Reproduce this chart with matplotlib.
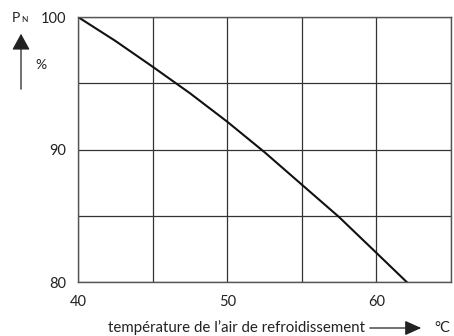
import matplotlib
matplotlib.use("Agg")
import matplotlib.pyplot as plt
from matplotlib.patches import FancyArrowPatch

# values
temp = [40, 42.5, 45, 47.5, 50, 52.5, 55, 57.5, 60, 62.03]
power = [100, 98.2, 96.25, 94.25, 92.1, 89.8, 87.35, 84.9, 82.2, 80]

grid_x = [40, 45, 50, 55, 60, 65]
grid_y = [80, 85, 90, 95, 100]
xticks = [40, 50, 60]
yticks = [80, 90, 100]

plt.rcParams['font.family'] = ['Lato', 'DejaVu Sans']
ink = '#222222'

fig = plt.figure(figsize=(4.54, 3.36), dpi=100)
ax = fig.add_axes([0.1718, 0.1607, 0.8216, 0.7887])

ax.plot(temp, power, color='#111111', linewidth=1.5)

ax.set_xlim(40, 65)
ax.set_ylim(80, 100)
ax.set_xticks(grid_x)
ax.set_yticks(grid_y)
ax.set_xticklabels([str(t) if t in xticks else '' for t in grid_x])
ax.set_yticklabels([str(t) if t in yticks else '' for t in grid_y])
ax.grid(True, color='#333333', linewidth=0.9)
ax.tick_params(length=0, labelsize=10.5, colors=ink)
ax.tick_params(axis='y', pad=8.6)
ax.tick_params(axis='x', pad=9)
for s in ax.spines.values():
    s.set_color('#555555')
    s.set_linewidth(1.0)

def px(x, y):
    return x / 454, 1 - y / 336

# y axis annotation: P_N, arrow, %
fig.text(*px(12, 18), 'P', fontsize=10, color=ink, ha='left', va='center')
fig.text(*px(21.5, 20), 'N', fontsize=6, color=ink, ha='left', va='center')
fig.text(*px(41, 65), '%', fontsize=10, color=ink, ha='center', va='center')
fig.add_artist(FancyArrowPatch(px(21, 92), px(21, 31), transform=fig.transFigure,
                               arrowstyle='-|>,head_length=10,head_width=5.5',
                               color=ink, linewidth=0.9, mutation_scale=1))

# x axis annotation: label, arrow, unit
fig.text(*px(365, 332), 'température de l\u2019air de refroidissement',
         fontsize=10.8, color=ink, ha='right', va='baseline')
fig.add_artist(FancyArrowPatch(px(367, 328), px(424, 328), transform=fig.transFigure,
                               arrowstyle='-|>,head_length=10,head_width=4.5',
                               color=ink, linewidth=0.9, mutation_scale=1))
fig.text(*px(442, 332), '°C', fontsize=10.5, color=ink, ha='center', va='baseline')

fig.savefig('out.png', dpi=100)
